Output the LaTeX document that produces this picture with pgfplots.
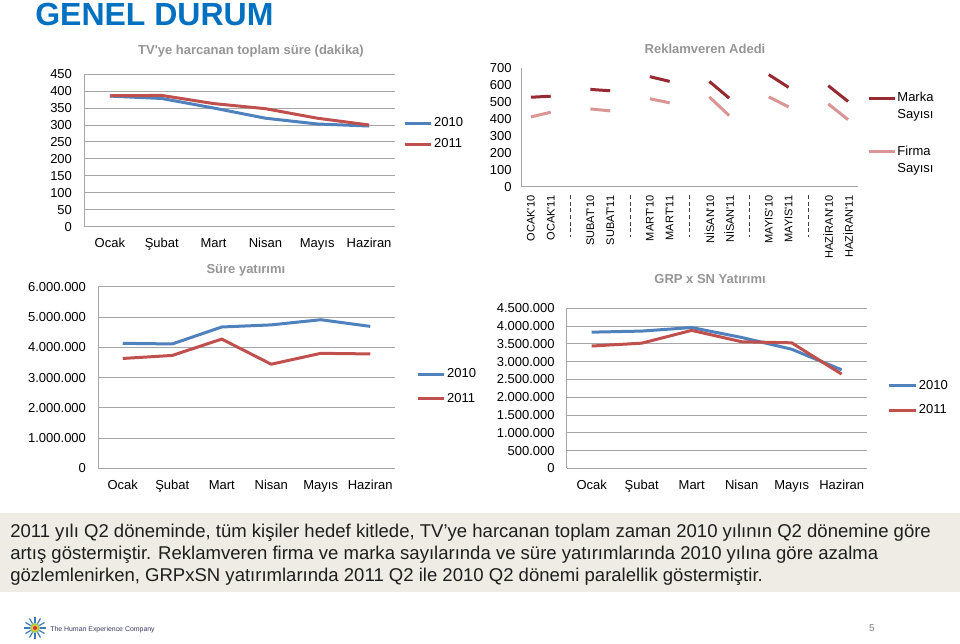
\documentclass[border=0pt]{standalone}
\usepackage{fontspec}
\newfontfamily\af{Liberation Sans}
\usepackage{pgfplots}
\pgfplotsset{compat=1.18}
\definecolor{c10}{RGB}{79,129,189}
\definecolor{c11}{RGB}{192,80,77}
\definecolor{marka}{RGB}{150,42,48}
\definecolor{firma}{RGB}{217,150,148}
\definecolor{gridc}{RGB}{166,166,166}
\definecolor{titc}{RGB}{150,150,150}
\definecolor{hdr}{RGB}{0,112,192}
\definecolor{boxc}{RGB}{238,236,228}
\definecolor{boxtext}{RGB}{30,30,30}
\definecolor{logoblue}{RGB}{60,120,190}
\definecolor{logogreen}{RGB}{150,200,80}
\definecolor{logoyellow}{RGB}{230,200,60}
\definecolor{logored}{RGB}{210,50,60}
\definecolor{logotext}{RGB}{60,60,100}
\newcommand\lbl{\af\fontsize{9.75}{12.75}\selectfont}
\pgfplotsset{
  slide/.style={
    scale only axis, axis lines*=left,
    axis line style={gridc, line width=0.75pt, -},
    major tick length=0pt, tick style={draw=none},
    /pgf/number format/assume math mode=true,
    ticklabel style={font=\lbl, black},
    yticklabel shift=5.5pt,
    xticklabel shift=5pt,
    title style={font=\lbl\bfseries, color=titc},
    clip=false,
    legend style={draw=none, fill=none, inner sep=0pt, outer sep=0pt, font=\lbl,
      nodes={inner sep=1pt}, anchor=west},
    legend cell align=left,
    legend image code/.code={\draw[##1] (0pt,0pt) -- (20pt,0pt);},
    grid style={gridc, line width=0.75pt},
  },
  months/.style={xmin=-0.5, xmax=5.5, xtick={0,...,5},
    xticklabels={Ocak,Şubat,Mart,Nisan,Mayıs,Haziran}},
  big/.style={scaled y ticks=false,
    yticklabel style={/pgf/number format/.cd, fixed, precision=0, 1000 sep={.}}},
}
\begin{document}
\af
\begin{tikzpicture}[font=\af]
\begin{scope}[x=0.75pt,y=0.75pt]
\fill[white] (0,0) rectangle (960,643);
\useasboundingbox (0,0) rectangle (960,643);
\node[anchor=base west, inner sep=0pt, text=hdr] at (35,617) {\fontsize{24}{28}\selectfont\bfseries GENEL DURUM};
\end{scope}

% Chart 1
\begin{axis}[slide, months, at={(63pt,312pt)}, anchor=south west,
  width=233.25pt, height=114.75pt,
  ymin=0, ymax=450, ytick={0,50,...,450}, ymajorgrids,
  title={TV'ye harcanan toplam süre (dakika)}, title style={at={(0.537,1.098)}, anchor=center},
  legend style={at={(1.026,0.61)}, /tikz/row sep=5.25pt}]
\addplot[c10, line width=2.25pt, line join=round] coordinates {(0,385)(1,378)(2,350)(3,320)(4,303)(5,297)};
\addlegendentry{2010}
\addplot[c11, line width=2.25pt, line join=round] coordinates {(0,386)(1,387)(2,363)(3,348)(4,320)(5,300)};
\addlegendentry{2011}
\end{axis}

% Chart 2
\begin{axis}[slide, at={(390.75pt,342pt)}, anchor=south west,
  width=252.75pt, height=89.25pt,
  xmin=-0.5, xmax=16.5, ymin=0, ymax=700, ytick={0,100,...,700},
  yticklabel shift=3.5pt,
  xtick={0,1,3,4,6,7,9,10,12,13,15,16},
  xticklabels={OCAK'10,OCAK'11,SUBAT'10,SUBAT'11,MART'10,MART'11,NİSAN'10,NİSAN'11,MAYIS'10,MAYIS'11,HAZİRAN'10,HAZİRAN'11},
  xticklabel style={rotate=90, anchor=east, font=\af\fontsize{8.25}{9}\selectfont},
  xticklabel shift=3pt,
  unbounded coords=jump,
  title={Reklamveren Adedi}, title style={at={(0.546,1.092)}, anchor=center},
  legend style={at={(1.027,0.45)}, /tikz/row sep=17pt, cells={align=left}},
  legend image code/.code={\draw[#1] (0pt,6.4pt) -- (19.5pt,6.4pt);}]
\addplot[marka, line width=2.25pt] coordinates {(0,528)(1,534)(2,nan)(3,574)(4,566)(5,nan)(6,649)(7,621)(8,nan)(9,621)(10,523)(11,nan)(12,661)(13,586)(14,nan)(15,596)(16,503)};
\addlegendentry{Marka\\Sayısı}
\addplot[firma, line width=2.25pt] coordinates {(0,412)(1,440)(2,nan)(3,459)(4,448)(5,nan)(6,519)(7,495)(8,nan)(9,530)(10,420)(11,nan)(12,530)(13,471)(14,nan)(15,489)(16,396)};
\addlegendentry{Firma\\Sayısı}
\pgfplotsinvokeforeach{2,5,8,11,14}{
  \draw[densely dashed, black!75, line width=0.6pt] ([yshift=-6pt]axis cs:#1,0) -- ([yshift=-37.5pt]axis cs:#1,0);
}
\end{axis}

% Chart 3
\begin{axis}[slide, months, big, at={(73.5pt,131pt)}, anchor=south west,
  width=222.75pt, height=136.2pt,
  ymin=0, ymax=6000000, ytick={0,1000000,2000000,3000000,4000000,5000000,6000000}, ymajorgrids,
  xticklabel shift=5.5pt,
  title={Süre yatırımı}, title style={at={(0.498,1.047)}, anchor=center},
  legend style={at={(1.071,0.45)}, /tikz/row sep=8.25pt}]
\addplot[c10, line width=2.25pt, line join=round] coordinates {(0,4130000)(1,4110000)(2,4670000)(3,4740000)(4,4910000)(5,4690000)};
\addlegendentry{2010}
\addplot[c11, line width=2.25pt, line join=round] coordinates {(0,3630000)(1,3730000)(2,4270000)(3,3440000)(4,3800000)(5,3780000)};
\addlegendentry{2011}
\end{axis}

% Chart 4
\begin{axis}[slide, months, big, at={(425pt,131pt)}, anchor=south west,
  width=225pt, height=120pt,
  ymin=0, ymax=4500000, ytick={0,500000,1000000,1500000,2000000,2500000,3000000,3500000,4000000,4500000}, ymajorgrids,
  xticklabel shift=5.5pt,
  title={GRP x SN Yatırımı}, title style={at={(0.478,1.133)}, anchor=center},
  legend style={at={(1.071,0.44)}, /tikz/row sep=8.25pt}]
\addplot[c10, line width=2.25pt, line join=round] coordinates {(0,3830000)(1,3860000)(2,3960000)(3,3680000)(4,3350000)(5,2770000)};
\addlegendentry{2010}
\addplot[c11, line width=2.25pt, line join=round] coordinates {(0,3440000)(1,3520000)(2,3880000)(3,3560000)(4,3530000)(5,2650000)};
\addlegendentry{2011}
\end{axis}

\begin{scope}[x=0.75pt,y=0.75pt]
\fill[boxc] (0,51) rectangle (960,130);
\begin{scope}[every node/.style={anchor=base west, inner sep=0pt, font=\af\fontsize{13.9}{16.5}\selectfont, text=boxtext}]
\node at (10,105.5) {2011 yılı Q2 döneminde, tüm kişiler hedef kitlede, TV’ye harcanan toplam zaman 2010 yılının Q2 dönemine göre};
\node at (10,83.5) {artış göstermiştir. Reklamveren firma ve marka sayılarında ve süre yatırımlarında 2010 yılına göre azalma};
\node at (10,61.5) {gözlemlenirken, GRPxSN yatırımlarında 2011 Q2 ile 2010 Q2 dönemi paralellik göstermiştir.};
\end{scope}
% footer logo
\foreach \a in {0,30,...,330} {\draw[logoblue, line width=0.9pt] (35,15) ++(\a:5) -- ++(\a:6);}
\fill[logogreen] (35,15) circle (5);
\fill[logoyellow] (35,15) circle (3.5);
\fill[logored] (35,15) circle (2);
\node[anchor=base west, inner sep=0pt, font=\af\fontsize{5.2}{6}\selectfont, text=logotext] at (50,12) {The Human Experience Company};
\node[inner sep=0pt, font=\af\fontsize{7.5}{8}\selectfont, text=gray] at (872,15) {5};
\end{scope}
\end{tikzpicture}
\end{document}
